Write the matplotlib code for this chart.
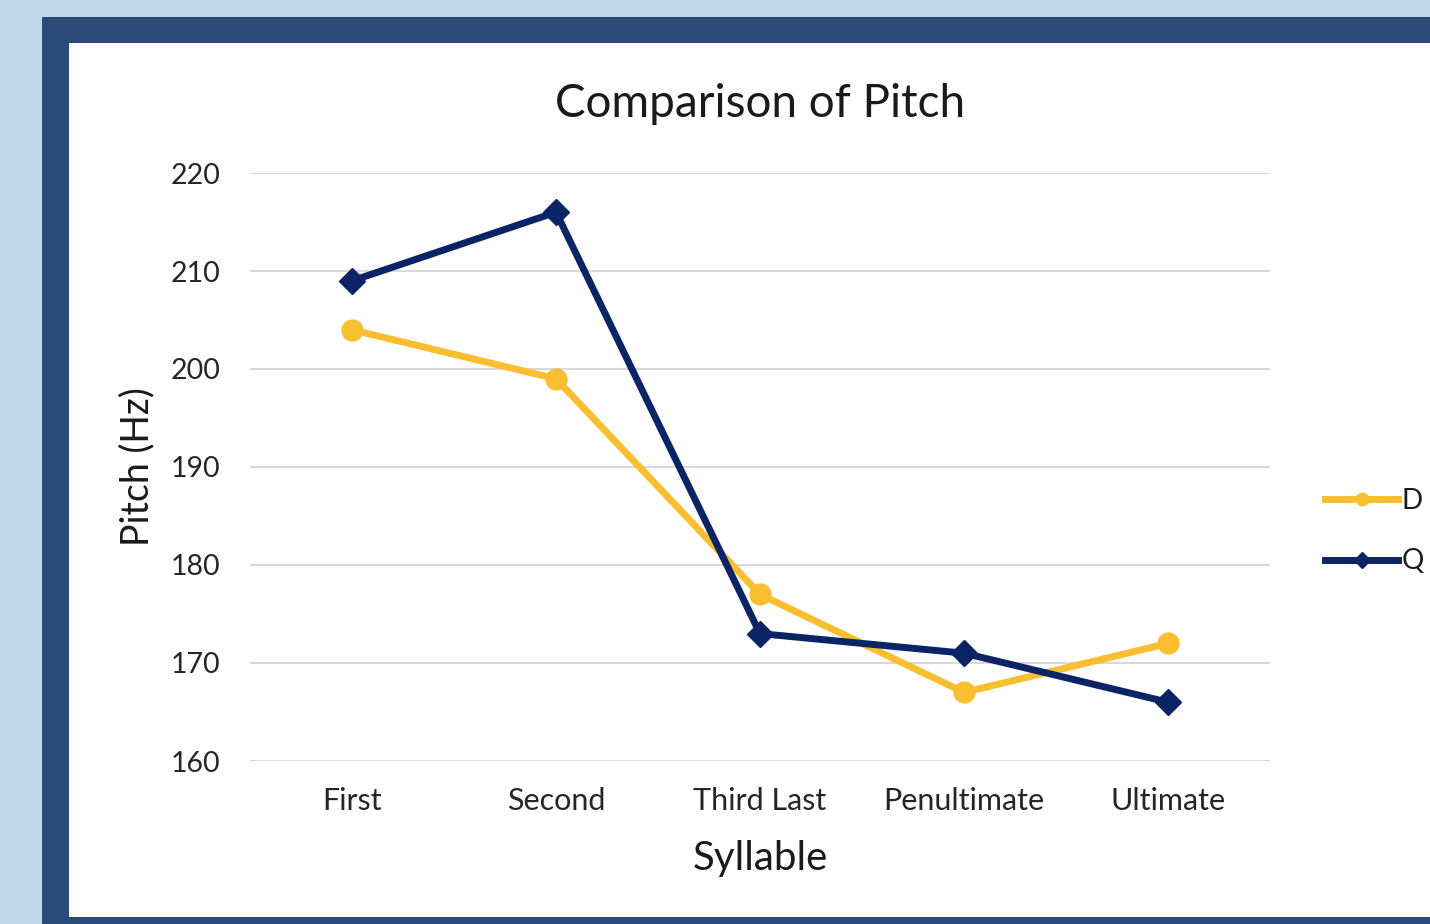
import matplotlib
matplotlib.use("Agg")
import matplotlib.pyplot as plt
from matplotlib.patches import Rectangle

# Mean pitch per syllable position
syllables = ["First", "Second", "Third Last", "Penultimate", "Ultimate"]
pitch_d = [204, 199, 177, 167, 172]
pitch_q = [209, 216, 173, 171, 166]
y_ticks = [160, 170, 180, 190, 200, 210, 220]

W, H = 1430, 924
fig = plt.figure(figsize=(W / 100, H / 100), dpi=100)
fig.patch.set_facecolor("#BFD7EA")

plt.rcParams["font.family"] = ["Lato", "DejaVu Sans"]

# Navy frame with white card inside
fig.patches.append(Rectangle((42 / W, 0), 1 - 42 / W, 1 - 17 / H,
                             transform=fig.transFigure, facecolor="#2B4A78",
                             edgecolor="none", zorder=-2))
fig.patches.append(Rectangle((69 / W, 7 / H), 1 - 69 / W, 1 - 43 / H - 7 / H,
                             transform=fig.transFigure, facecolor="white",
                             edgecolor="none", zorder=-1))

ax = fig.add_axes([250 / W, 1 - 761 / H, 1020 / W, 588 / H])
ax.set_facecolor("none")

x = list(range(len(syllables)))
ax.plot(x, pitch_d, color="#F9BF30", lw=5, marker="o", ms=15,
        label="D", zorder=3)
ax.plot(x, pitch_q, color="#0B2466", lw=5, marker="D", ms=13,
        label="Q", zorder=4)

ax.set_xlim(-0.5, len(syllables) - 0.5)
ax.set_ylim(160, 220)
ax.set_yticks(y_ticks)
ax.set_xticks(x)
ax.set_xticklabels(syllables)
ax.grid(axis="y", color="#D9D9D9", lw=1.5)
ax.set_axisbelow(True)
for s in ax.spines.values():
    s.set_visible(False)
ax.tick_params(axis="both", length=0, colors="#262626")
ax.tick_params(axis="x", pad=19, labelsize=22)
ax.tick_params(axis="y", pad=21, labelsize=20.5)

ax.set_title("Comparison of Pitch", fontsize=33, color="#1a1a1a", pad=40)
ax.set_xlabel("Syllable", fontsize=29, color="#1a1a1a", labelpad=18)
ax.set_ylabel("Pitch (Hz)", fontsize=27, color="#1a1a1a", labelpad=11)

leg = ax.legend(loc="center left", bbox_to_anchor=(1306 / W, 1 - 531 / H),
                bbox_transform=fig.transFigure, frameon=False, fontsize=20,
                handlelength=2.6, handletextpad=0.15, labelspacing=1.25,
                borderpad=0.2, markerscale=0.6)
for t in leg.get_texts():
    t.set_color("#1a1a1a")

fig.savefig("out.png", dpi=100, facecolor=fig.get_facecolor())
